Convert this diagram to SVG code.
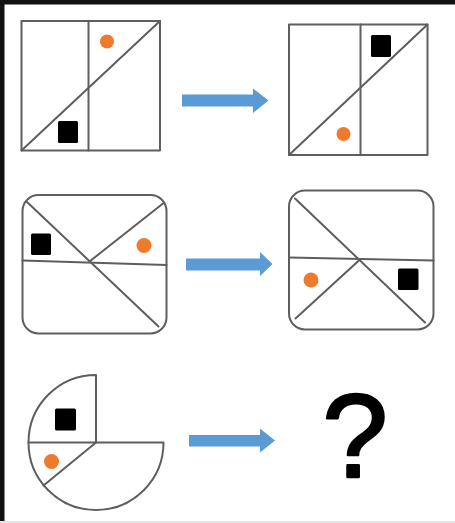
<svg xmlns="http://www.w3.org/2000/svg" width="455" height="523" viewBox="0 0 455 523">
<style>
.ln{fill:none;stroke:#5e5e5e;stroke-width:2;stroke-linecap:round;stroke-linejoin:round}
.sq{fill:#000}
.dot{fill:#ee7a2d}
.arr{fill:#5b9bd5}
</style>
<rect x="0" y="0" width="455" height="523" fill="#fff"/>
<rect x="0" y="0" width="455" height="4.5" fill="#111"/>
<rect x="0" y="0" width="4.5" height="523" fill="#111"/>
<rect x="0" y="521" width="455" height="2" fill="#e6e6e6"/>
<g id="fig1">
<rect class="ln" x="21.5" y="21" width="138.5" height="129.5"/>
<line class="ln" x1="88.5" y1="21" x2="88.5" y2="150.5"/>
<line class="ln" x1="21.5" y1="150.5" x2="160" y2="21"/>
<circle class="dot" cx="107" cy="41.5" r="7"/>
<rect class="sq" x="58" y="121" width="20" height="22" rx="1.5"/>
</g>
<g id="fig2">
<rect class="ln" x="289" y="24.5" width="138.5" height="130.5"/>
<line class="ln" x1="360.5" y1="24.5" x2="360.5" y2="155"/>
<line class="ln" x1="289" y1="155" x2="427.5" y2="24.5"/>
<rect class="sq" x="371" y="35" width="20" height="22" rx="1.5"/>
<circle class="dot" cx="343.5" cy="134" r="7"/>
</g>
<g id="fig3">
<rect class="ln" x="22.5" y="195" width="144" height="138.5" rx="16"/>
<line class="ln" x1="22.5" y1="260.5" x2="166.5" y2="265"/>
<line class="ln" x1="26.5" y1="201.5" x2="158.5" y2="326.5"/>
<line class="ln" x1="89.5" y1="261.5" x2="163" y2="203.5"/>
<rect class="sq" x="31" y="233.5" width="20" height="21.5" rx="1.5"/>
<circle class="dot" cx="144" cy="245.5" r="7.5"/>
</g>
<g id="fig4">
<rect class="ln" x="289" y="190.5" width="144.5" height="139" rx="16"/>
<line class="ln" x1="289" y1="257.5" x2="433.5" y2="260.5"/>
<line class="ln" x1="295" y1="198.5" x2="425" y2="322.5"/>
<line class="ln" x1="360" y1="259.5" x2="295.5" y2="318.5"/>
<circle class="dot" cx="311" cy="280" r="7.5"/>
<rect class="sq" x="398" y="268.5" width="20.5" height="21.5" rx="1.5"/>
</g>
<g id="fig5">
<path class="ln" d="M96 442.5 L96 375 A67.5 67.5 0 1 0 163.5 442.5 Z"/>
<line class="ln" x1="28.5" y1="442.5" x2="96" y2="442.5"/>
<line class="ln" x1="96" y1="442.5" x2="43.5" y2="485.5"/>
<rect class="sq" x="55" y="408.5" width="21" height="22" rx="1.5"/>
<circle class="dot" cx="51.5" cy="461.5" r="7.5"/>
</g>
<g id="question">
<text x="355" y="477" font-family="Liberation Sans, Arial, sans-serif" font-size="118" text-anchor="middle" fill="#000" stroke="#000" stroke-width="2.5" stroke-linejoin="round">?</text>
</g>
<g id="connectors">
<polygon class="arr" points="182,94.5 253,94.5 253,88.5 268.5,100.5 253,113 253,106.5 182,106.5"/>
<polygon class="arr" points="186,258.5 260,258.5 260,252 272.5,264 260,276 260,270.5 186,270.5"/>
<polygon class="arr" points="189,435 260,435 260,428.5 275,440.5 260,452.5 260,446.5 189,446.5"/>
</g>
</svg>
